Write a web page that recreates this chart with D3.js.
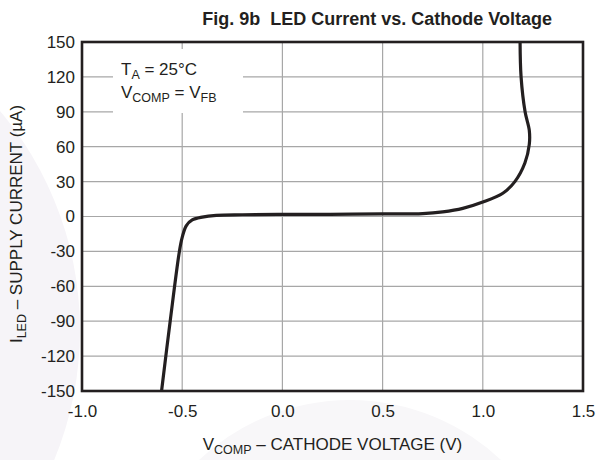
<!DOCTYPE html>
<html>
<head>
<meta charset="utf-8">
<script src="https://cdn.jsdelivr.net/npm/d3@7"></script>
<style>
  body { margin: 0; background: #fff; }
  svg text { font-family: "Liberation Sans", Arial, Helvetica, sans-serif; fill: #231f20; }
</style>
</head>
<body>
<div id="chart"></div>
<script>
// chart values
var xTicks = [-1.0, -0.5, 0.0, 0.5, 1.0, 1.5];
var yTicks = [150, 120, 90, 60, 30, 0, -30, -60, -90, -120, -150];
// curve, in drawing order (V, uA)
var voltage = [-0.603, -0.56, -0.514, -0.50, -0.48, -0.45, -0.40, -0.33, -0.2, 0.0, 0.238, 0.5, 0.7, 0.8, 0.9, 1.0, 1.1, 1.16, 1.21, 1.232, 1.232, 1.211, 1.191, 1.186];
var current = [-150, -90, -30, -18, -8, -3, -0.5, 1.0, 1.5, 1.8, 1.9, 2.2, 2.5, 4, 7, 12.5, 20, 30, 46, 62, 74, 90, 120, 150];

var svgWidth = 607;
var svgHeight = 460;
var margin = { top: 42, right: 24, bottom: 69, left: 82 };
var width = svgWidth - margin.left - margin.right;
var height = svgHeight - margin.top - margin.bottom;

var svg = d3.select('#chart')
  .append('svg')
  .attr('width', svgWidth)
  .attr('height', svgHeight);

// faint page watermark
svg.append('circle')
  .attr('cx', -260).attr('cy', 330).attr('r', 340)
  .attr('fill', '#f6f4f8');
svg.append('circle')
  .attr('cx', 350).attr('cy', 620).attr('r', 220)
  .attr('fill', '#f8f7f9');

var chartGroup = svg.append('g')
  .attr('transform', `translate(${margin.left}, ${margin.top})`);

chartGroup.append('rect')
  .attr('width', width).attr('height', height)
  .attr('fill', '#fff');

var x = d3.scaleLinear().domain([-1, 1.5]).range([0, width]);
var y = d3.scaleLinear().domain([-150, 150]).range([height, 0]);

// grid
chartGroup.append('g')
  .selectAll('line')
  .data(xTicks)
  .enter()
  .append('line')
  .attr('x1', d => x(d)).attr('x2', d => x(d))
  .attr('y1', 0).attr('y2', height)
  .attr('stroke', '#a7a7a7')
  .attr('stroke-width', 1.2);

chartGroup.append('g')
  .selectAll('line')
  .data(yTicks)
  .enter()
  .append('line')
  .attr('x1', 0).attr('x2', width)
  .attr('y1', d => y(d)).attr('y2', d => y(d))
  .attr('stroke', '#a7a7a7')
  .attr('stroke-width', 1.2);

// axes (labels only), plain hyphen for negatives
var bottomAxis = d3.axisBottom(x).tickValues(xTicks).tickSize(0).tickPadding(14)
  .tickFormat(d => d.toFixed(1));
var leftAxis = d3.axisLeft(y).tickValues(yTicks).tickSize(0).tickPadding(7)
  .tickFormat(d => String(d));

var xAxis = chartGroup.append('g')
  .attr('transform', `translate(0, ${height})`)
  .call(bottomAxis);
var yAxis = chartGroup.append('g').call(leftAxis);

[xAxis, yAxis].forEach(function(a) {
  a.select('.domain').remove();
  a.selectAll('text')
    .attr('font-size', '17px')
    .attr('fill', '#231f20')
    .attr('font-family', '"Liberation Sans", Arial, sans-serif');
});

// annotation box
chartGroup.append('rect')
  .attr('x', 31).attr('y', 7)
  .attr('width', 130).attr('height', 64)
  .attr('fill', '#fff');

var note = chartGroup.append('text')
  .attr('font-size', '17px');
note.append('tspan').attr('x', 39).attr('y', 33).text('T');
note.append('tspan').attr('dy', 4).attr('font-size', '12.5px').text('A');
note.append('tspan').attr('dy', -4).text(' = 25\u00B0C');

var note2 = chartGroup.append('text')
  .attr('font-size', '17px');
note2.append('tspan').attr('x', 39).attr('y', 56).text('V');
note2.append('tspan').attr('dy', 4).attr('font-size', '12.5px').text('COMP');
note2.append('tspan').attr('dy', -4).text(' = V');
note2.append('tspan').attr('dy', 4).attr('font-size', '12.5px').text('FB');

// curve
var points = voltage.map((v, i) => [v, current[i]]);
var line = d3.line()
  .x(d => x(d[0]))
  .y(d => y(d[1]))
  .curve(d3.curveCatmullRom.alpha(0.5));

chartGroup.append('path')
  .datum(points)
  .attr('d', line)
  .attr('fill', 'none')
  .attr('stroke', '#231f20')
  .attr('stroke-width', 3.2)
  .attr('stroke-linejoin', 'round');

// frame
chartGroup.append('rect')
  .attr('width', width).attr('height', height)
  .attr('fill', 'none')
  .attr('stroke', '#231f20')
  .attr('stroke-width', 2.6);

// title
svg.append('text')
  .attr('x', 552)
  .attr('y', 25)
  .attr('text-anchor', 'end')
  .attr('font-size', '18px')
  .attr('font-weight', 'bold')
  .text('Fig. 9b\u00A0 LED Current vs. Cathode Voltage');

// x label
var xl = svg.append('text')
  .attr('x', margin.left + width / 2)
  .attr('y', 450)
  .attr('text-anchor', 'middle')
  .attr('font-size', '17px');
xl.append('tspan').text('V');
xl.append('tspan').attr('dy', 4).attr('font-size', '12.5px').text('COMP');
xl.append('tspan').attr('dy', -4).text(' \u2013 CATHODE VOLTAGE (V)');

// y label
var yl = svg.append('text')
  .attr('transform', 'translate(22, 224) rotate(-90)')
  .attr('text-anchor', 'middle')
  .attr('font-size', '17px');
yl.append('tspan').text('I');
yl.append('tspan').attr('dy', 4).attr('font-size', '12.5px').text('LED');
yl.append('tspan').attr('dy', -4).text(' \u2013 SUPPLY CURRENT (\u00B5A)');
</script>
</body>
</html>
